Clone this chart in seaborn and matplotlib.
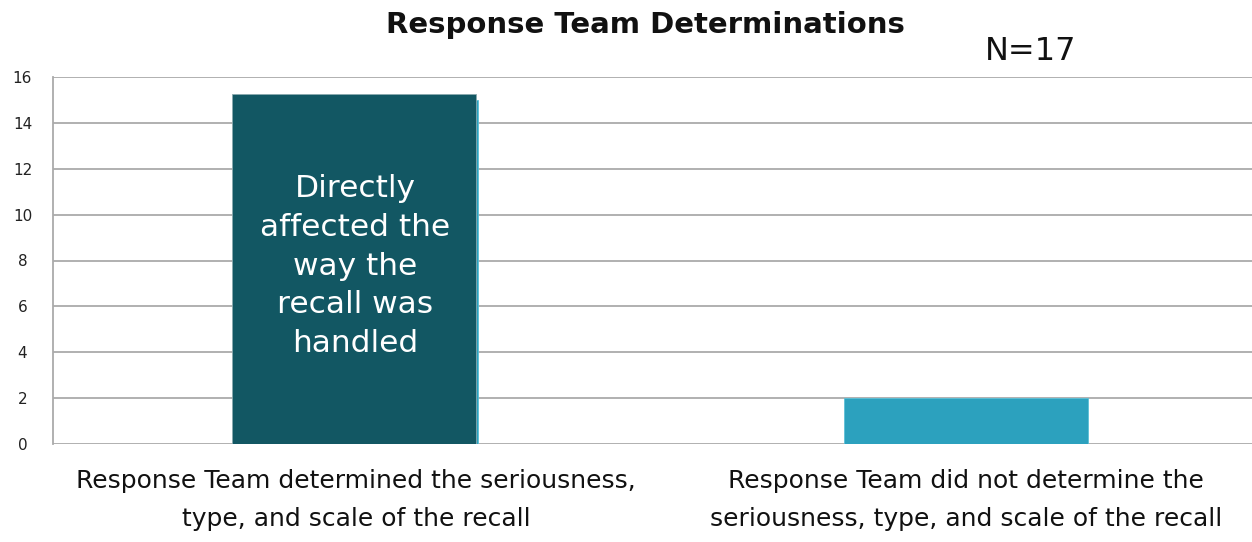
import pandas as pd
import numpy as np
import matplotlib.pyplot as plt
import seaborn as sns

categories = ['Response Team determined the seriousness,\ntype, and scale of the recall',
              'Response Team did not determine the\nseriousness, type, and scale of the recall']
counts = [15, 2]
overlay_height = [15.25]
overlay_text = 'Directly\naffected the\nway the\nrecall was\nhandled'
title = 'Response Team Determinations'
n_label = 'N=17'
yticks = [0, 2, 4, 6, 8, 10, 12, 14, 16]

sns.set_style('white')
plt.rcParams['font.family'] = ['DejaVu Sans']

df = pd.DataFrame({'category': categories, 'count': counts})

fig = plt.figure(figsize=(12.52, 5.42), dpi=100)
ax = fig.add_axes([53 / 1252, 1 - 444 / 542, (1252 - 53) / 1252, (444 - 77) / 542])

sns.barplot(data=df, x='category', y='count', ax=ax, color='#2ca1be', width=0.4,
            saturation=1, edgecolor='#5cc0d8', linewidth=0.6, zorder=3)

# dark text box laid over the first bar
ax.bar([-0.004], overlay_height, width=0.4, color='#125763', edgecolor='#8aa9ae',
       linewidth=0.6, zorder=4)
ax.text(-0.002, 7.75, overlay_text, ha='center', va='center', color='white',
        fontsize=22.5, linespacing=1.42, zorder=5)

ax.set_xlim(-0.497, 1.469)
ax.set_ylim(0, 16)
ax.set_yticks(yticks)
ax.yaxis.grid(True, color='#aaaaaa', linewidth=1.3, zorder=0)
ax.set_axisbelow(True)
for s in ['top', 'right', 'bottom']:
    ax.spines[s].set_visible(False)
ax.spines['left'].set_color('#aaaaaa')
ax.spines['left'].set_linewidth(1.3)
ax.tick_params(axis='y', length=0, labelsize=11, pad=22, labelcolor='#222222')
ax.tick_params(axis='x', length=0, labelsize=18, pad=18, labelcolor='#111111')
for lbl in ax.get_xticklabels():
    lbl.set_linespacing(1.75)
for lbl in ax.get_yticklabels():
    lbl.set_horizontalalignment('center')
ax.set_xlabel('')
ax.set_ylabel('')

fig.text(645 / 1252, 1 - 25 / 542, title, ha='center', va='center',
         fontsize=21, fontweight='bold', color='#111111')
fig.text(1031 / 1252, 1 - 52 / 542, n_label, ha='center', va='center',
         fontsize=23, color='#111111')

fig.savefig('out.png', dpi=100)
